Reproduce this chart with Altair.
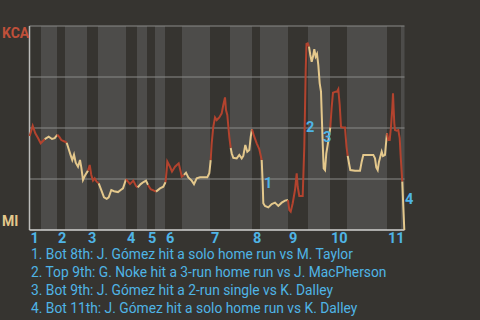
import bisect
import altair as alt
import pandas as pd

# ---- data ----
team_top = "KCA"
team_bottom = "MI"

# start of each half-inning on the play axis (top 1st, bottom 1st, ...)
half_starts = [0, 11.5, 27.5, 35.5, 57.5, 68.5, 96.5, 107.5, 117.5, 125.5, 135.5,
               152.5, 180.5, 200.5, 222.5, 230.5, 258.5, 278.5, 300.5, 317.5,
               357.5, 371.5]
x_end = 375

play_x = [
    0.2, 3.2, 5.8, 8.5, 11.2,
    15.2, 19.2, 22.5, 25.2,
    27.8, 30.2, 31.8, 34.5,
    37.2, 39.5, 41.2, 42.8, 44.5, 46.2, 48.5, 50.5, 51.8, 53.5, 55.8,
    58.5, 60.2, 61.8, 63.5, 65.2, 67.2,
    69.2, 71.8, 74.5, 77.2, 79.2, 81.8, 84.5, 88.5, 91.2, 93.5,
    96.5, 100.5, 103.8, 106.5,
    108.2, 111.2, 114.0, 116.5,
    118.5, 121.2, 124.5,
    126.5, 130.5, 133.8,
    136.0, 137.2, 137.8, 140.5, 142.5, 145.5, 149.2, 151.2, 152.2,
    154.5, 156.5, 158.8, 162.2, 164.5, 167.2, 170.5, 174.5, 177.8, 179.8,
    181.2, 182.2, 183.8, 185.5, 187.2, 189.8, 192.2, 193.8, 195.5, 196.5, 197.8, 199.8,
    201.2, 202.2, 203.8, 207.2, 209.8, 212.2, 213.8, 215.8, 217.8, 219.8, 221.2,
    222.5, 224.5, 227.2, 229.8,
    232.2, 233.2, 233.8, 235.5, 238.8, 242.2, 245.5, 248.8, 252.2, 255.5,
    258.5, 259.8, 261.2, 263.2, 265.5, 267.2, 268.2, 269.8, 273.2, 274.8, 276.2, 277.0, 278.2,
    279.5, 280.8, 282.2, 283.5, 284.8, 286.2, 287.5, 288.8, 290.2, 291.5, 292.2, 293.2,
    294.2, 295.5, 296.8, 298.2, 299.5,
    300.8, 302.2, 303.5, 306.2, 307.5, 308.8, 310.2, 311.5, 312.8, 315.5, 316.2, 317.0,
    318.2, 319.5, 320.8, 325.5, 330.5, 332.2, 333.8, 337.2, 343.8, 345.5, 346.8, 348.2,
    349.5, 350.8, 352.2, 353.5, 355.5, 356.2,
    357.5, 358.8, 360.2, 361.5, 362.8, 363.5, 364.2, 364.8, 365.5, 367.2, 368.8, 370.2, 371.2,
    372.8, 373.8, 374.8,
]
win_prob = [
    0.461, 0.511, 0.474, 0.451, 0.425,
    0.445, 0.457, 0.446, 0.450,
    0.467, 0.454, 0.441, 0.435,
    0.428, 0.392, 0.366, 0.343, 0.369, 0.330, 0.310, 0.343, 0.307, 0.245, 0.270,
    0.291, 0.319, 0.270, 0.242, 0.253, 0.237,
    0.229, 0.196, 0.160, 0.153, 0.160, 0.196, 0.190, 0.186, 0.196, 0.204,
    0.249, 0.225, 0.242, 0.216,
    0.209, 0.225, 0.235, 0.242,
    0.221, 0.200, 0.193,
    0.188, 0.204, 0.212,
    0.235, 0.294, 0.335, 0.310, 0.286, 0.310, 0.327, 0.286, 0.261,
    0.270, 0.281, 0.258, 0.242, 0.225, 0.253, 0.258, 0.258, 0.258, 0.278,
    0.343, 0.425, 0.506, 0.552, 0.539, 0.552, 0.572, 0.613, 0.650, 0.588, 0.564, 0.457,
    0.402, 0.376, 0.354, 0.351, 0.368, 0.351, 0.363, 0.417, 0.384, 0.392, 0.457,
    0.494, 0.461, 0.425, 0.396,
    0.343, 0.229, 0.131, 0.118, 0.111, 0.127, 0.134, 0.118, 0.134, 0.144,
    0.147, 0.098, 0.090, 0.131, 0.196, 0.278, 0.212, 0.167, 0.167, 0.408, 0.784, 0.912, 0.915,
    0.899, 0.858, 0.825, 0.850, 0.886, 0.850, 0.863, 0.809, 0.719, 0.678, 0.572, 0.425,
    0.302, 0.294, 0.376, 0.417, 0.457,
    0.503, 0.604, 0.673, 0.678, 0.678, 0.690, 0.613, 0.506, 0.503, 0.503, 0.457, 0.408,
    0.363, 0.327, 0.294, 0.291, 0.291, 0.335, 0.368, 0.368, 0.368, 0.351, 0.307, 0.294,
    0.335, 0.359, 0.384, 0.363, 0.368, 0.408,
    0.474, 0.441, 0.441, 0.506, 0.597, 0.670, 0.588, 0.523, 0.490, 0.487, 0.490, 0.450, 0.359,
    0.237, 0.114, 0.000,
]

inning_labels = ["1", "2", "3", "4", "5", "6", "7", "8", "9", "10", "11"]
grid_values = [0.25, 0.5, 0.75, 1.0]

note_marks = ["1", "2", "3", "4"]
note_x = [234.5, 276.5, 293.5, 375.5]
note_prob = [0.225, 0.5, 0.451, 0.147]
notes = [
    "1. Bot 8th: J. Gómez hit a solo home run vs M. Taylor",
    "2. Top 9th: G. Noke hit a 3-run home run vs J. MacPherson",
    "3. Bot 9th: J. Gómez hit a 2-run single vs K. Dalley",
    "4. Bot 11th: J. Gómez hit a solo home run vs K. Dalley",
]

# ---- styling ----
BG = "#363430"
BAND = "#4d4c4a"
RED = "#b3432e"
TAN = "#e4c88c"
BLUE = "#4fb4e6"
FONT = "Roboto"

# ---- tables ----
seg_of = [bisect.bisect_right(half_starts, x) - 1 for x in play_x]
rows = []
for i, (x, p, s) in enumerate(zip(play_x, win_prob, seg_of)):
    half = "top" if s % 2 == 0 else "bottom"
    rows.append({"x": x, "p": p, "seg": s, "half": half})
    if i + 1 < len(play_x) and seg_of[i + 1] != s:
        rows.append({"x": play_x[i + 1], "p": win_prob[i + 1], "seg": s, "half": half})
line_df = pd.DataFrame(rows)

ends = half_starts[1:] + [x_end]
band_df = pd.DataFrame(
    [{"start": s, "end": e} for k, (s, e) in enumerate(zip(half_starts, ends)) if k % 2 == 1]
)
inning_df = pd.DataFrame({"x": half_starts[0::2], "label": inning_labels})
grid_df = pd.DataFrame({"p": grid_values})
mark_df = pd.DataFrame({"x": note_x, "p": note_prob, "label": note_marks})

xs = alt.Scale(domain=[0, x_end], nice=False, zero=False)
ys = alt.Scale(domain=[0, 1], nice=False, zero=False)

bands = alt.Chart(band_df).mark_rect(color=BAND).encode(
    x=alt.X("start:Q", scale=xs, axis=None),
    x2="end:Q",
    y=alt.value(0),
    y2=alt.value(204),
)

grid = alt.Chart(grid_df).mark_rule(color="#8a8a88", strokeWidth=1).encode(
    y=alt.Y("p:Q", scale=ys, axis=None),
)

left_line = alt.Chart(pd.DataFrame({"x": [0]})).mark_rule(color="#bdbdbb", strokeWidth=1.5).encode(
    x=alt.X("x:Q", scale=xs, axis=None),
)
bottom_line = alt.Chart(pd.DataFrame({"p": [0]})).mark_rule(color="#d2d2d0", strokeWidth=1.5).encode(
    y=alt.Y("p:Q", scale=ys, axis=None),
)

line = alt.Chart(line_df).mark_line(strokeWidth=2).encode(
    x=alt.X("x:Q", scale=xs, axis=None),
    y=alt.Y("p:Q", scale=ys, axis=None),
    color=alt.Color("half:N", scale=alt.Scale(domain=["top", "bottom"], range=[RED, TAN]), legend=None),
    detail="seg:N",
    order="x:Q",
)

kca = alt.Chart(pd.DataFrame({"p": [1.0], "t": [team_top]})).mark_text(
    font=FONT, fontSize=14, fontWeight="bold", color="#c0503a", align="left", baseline="alphabetic", dy=12
).encode(x=alt.value(-27.5), y=alt.Y("p:Q", scale=ys, axis=None), text="t:N")

mi = alt.Chart(pd.DataFrame({"p": [0.0], "t": [team_bottom]})).mark_text(
    font=FONT, fontSize=14, fontWeight="bold", color=TAN, align="left", baseline="alphabetic", dy=-4
).encode(x=alt.value(-27.5), y=alt.Y("p:Q", scale=ys, axis=None), text="t:N")

innings = alt.Chart(inning_df).mark_text(
    font=FONT, fontSize=14.5, fontWeight="bold", color=BLUE, align="left", baseline="alphabetic", dx=1
).encode(x=alt.X("x:Q", scale=xs, axis=None), y=alt.value(217), text="label:N")

marks = alt.Chart(mark_df).mark_text(
    font=FONT, fontSize=14.5, fontWeight="bold", color=BLUE, align="left", baseline="middle"
).encode(x=alt.X("x:Q", scale=xs, axis=None), y=alt.Y("p:Q", scale=ys, axis=None), text="label:N")

notes_text = alt.Chart(pd.DataFrame({"t": ["\n".join(notes)]})).mark_text(
    font=FONT, fontSize=13.8, color=BLUE, align="left", baseline="alphabetic",
    lineBreak="\n", lineHeight=17.8
).encode(x=alt.value(1.5), y=alt.value(233.3), text="t:N")

chart = alt.layer(
    bands, grid, left_line, bottom_line, line, kca, mi, innings, marks, notes_text
).properties(
    width=375,
    height=204,
    autosize=alt.AutoSizeParams(type="none"),
    padding={"left": 29.5, "top": 26, "right": 75.5, "bottom": 90},
    background=BG,
).configure_view(stroke=None)

chart.save("out.html", embed_options={"renderer": "svg", "actions": False})
